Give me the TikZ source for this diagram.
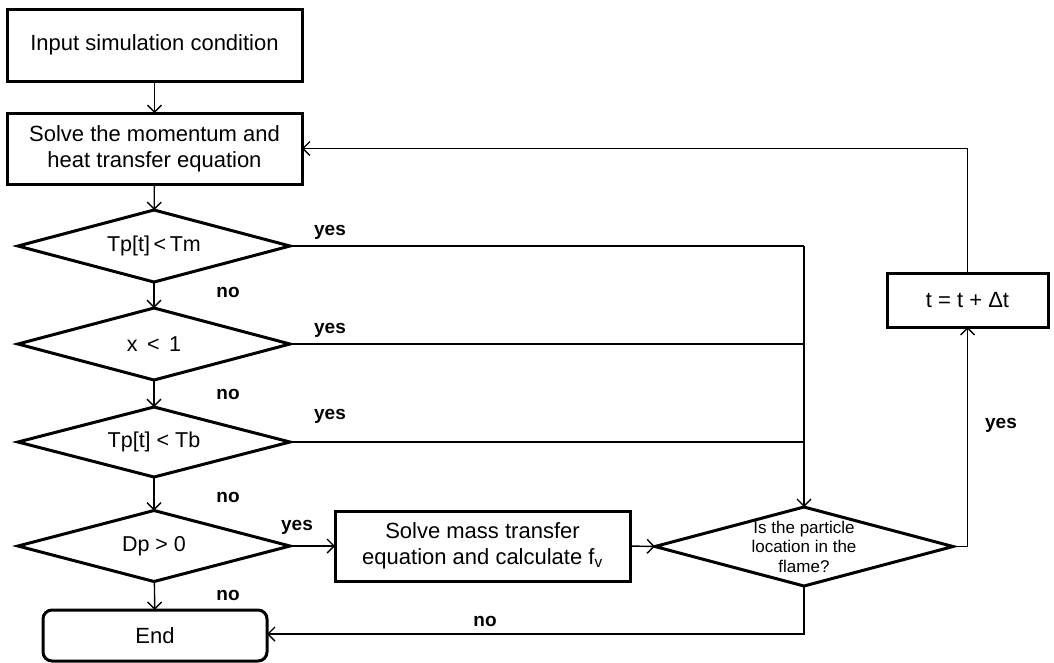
\documentclass[tikz,border=0pt]{standalone}
\usepackage{fontspec}
\setmainfont{Liberation Sans}
\usetikzlibrary{shapes.geometric,arrows.meta}
\tikzset{
  proc/.style={draw, line width=3pt, inner sep=0pt, outer sep=0pt, align=center, font=\fontsize{22}{26}\selectfont},
  dec/.style={draw, diamond, aspect=3.8, line width=3pt, inner sep=0pt, outer sep=0pt, align=center, font=\fontsize{21.5}{24}\selectfont},
  conn/.style={line width=1.4pt},
  arr/.style={line width=1.4pt, -{Straight Barb[length=7pt,width=14pt,line width=1.4pt]}},
  lbl/.style={font=\bfseries\fontsize{19}{21}\selectfont}
}
\begin{document}
\begin{tikzpicture}[x=1pt,y=-1pt]
\useasboundingbox (0,0) rectangle (1054,662);
\node[proc, minimum width=295pt, minimum height=72pt] (in) at (154.5,45) {Input simulation condition};
\node[proc, minimum width=295pt, minimum height=71pt] (mom) at (154.5,148.5) {Solve the momentum and\\heat transfer equation};
\node[dec, minimum width=272pt, minimum height=72pt] (d1) at (154,246) {Tp[t]\,<\,Tm};
\node[dec, minimum width=272pt, minimum height=72pt] (d2) at (154,344) {x \,<\, 1};
\node[dec, minimum width=272pt, minimum height=70pt] (d3) at (154,442) {Tp[t] < Tb};
\node[dec, minimum width=272pt, minimum height=71pt] (d4) at (154,546) {Dp > 0};
\node[proc, rounded corners=9pt, minimum width=224pt, minimum height=51pt] (end) at (155,635.5) {End};
\node[proc, minimum width=295pt, minimum height=70pt] (mass) at (482.5,546) {Solve mass transfer\\equation and calculate f\textsubscript{v}};
\node[dec, minimum width=298pt, minimum height=79pt,
  label={[font=\fontsize{17}{19.5}\selectfont, align=center, inner sep=0pt]center:Is the particle\\location in the\\flame?}] (d5) at (804,546.5) {};
\node[proc, minimum width=161pt, minimum height=54pt] (t) at (967.5,300) {t = t + Δt};
% main column
\draw[arr] (in) -- (mom);
\draw[arr] (mom) -- (d1);
\draw[arr] (d1) -- (d2);
\draw[arr] (d2) -- (d3);
\draw[arr] (d3) -- (d4);
\draw[arr] (d4) -- (end);
% yes branches
\draw[conn] (d1.east) -- (d5.north |- d1.east);
\draw[conn] (d2.east) -- (d5.north |- d2.east);
\draw[conn] (d3.east) -- (d5.north |- d3.east);
\draw[arr] (d5.north |- d1.east) -- (d5.north);
\draw[arr] (d4.east) -- (mass.west);
\draw[arr] (mass.east) -- (d5.west);
\draw[arr] (d5.east) -| (t.south);
\draw[arr] (t.north) |- (mom.east);
\draw[arr] (d5.south) |- ([yshift=1.5pt]end.east);
% labels
\node[lbl] (y1) at (330,232) {yes};
\node[lbl] (y2) at (330,330) {yes};
\node[lbl] (y3) at (330,416) {yes};
\node[lbl] (y4) at (297,527) {yes};
\node[lbl] (y5) at (1001,425) {yes};
\node[lbl] (n1) at (228,292) {no};
\node[lbl] (n2) at (228,394) {no};
\node[lbl] (n3) at (228,497) {no};
\node[lbl] (n4) at (228,595) {no};
\node[lbl] (n5) at (485,621) {no};
\end{tikzpicture}
\end{document}
